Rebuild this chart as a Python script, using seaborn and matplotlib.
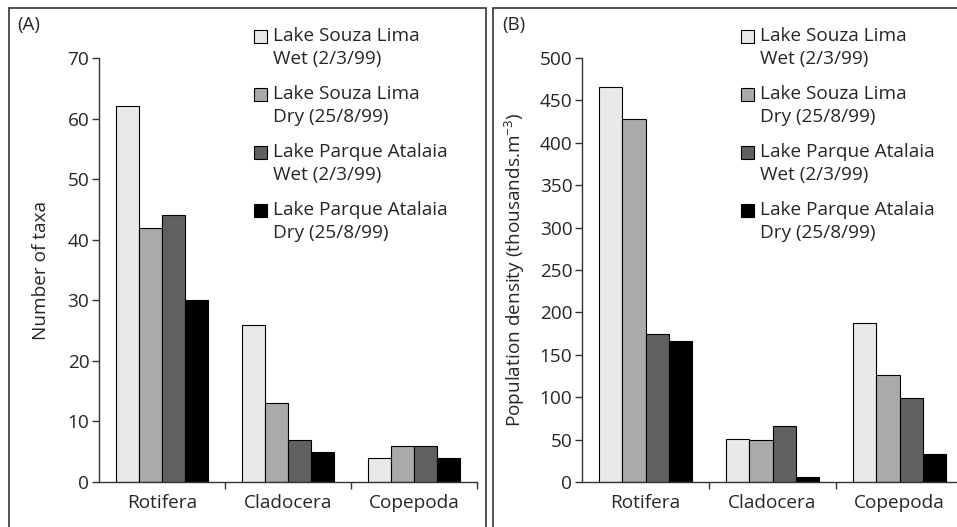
import numpy as np
import pandas as pd
import matplotlib
matplotlib.use("Agg")
import matplotlib.pyplot as plt
import matplotlib.patches as mpatches
from matplotlib.legend_handler import HandlerPatch
import seaborn as sns

groups = ["Rotifera", "Cladocera", "Copepoda"]
series = ["Lake Souza Lima\nWet (2/3/99)", "Lake Souza Lima\nDry (25/8/99)",
          "Lake Parque Atalaia\nWet (2/3/99)", "Lake Parque Atalaia\nDry (25/8/99)"]
taxa = [[62, 26, 4], [42, 13, 6], [44, 7, 6], [30, 5, 4]]
density = [[466, 51, 188], [428, 50, 126], [175, 66, 99], [166, 6, 33]]
colors = ["#e8e9e8", "#a9aaa9", "#616160", "#000000"]

sns.set_theme(style="white")
plt.rcParams["font.family"] = ["Open Sans", "DejaVu Sans"]
plt.rcParams["mathtext.fontset"] = "custom"
plt.rcParams["mathtext.rm"] = "Open Sans"
plt.rcParams["mathtext.it"] = "Open Sans"

FS = 13.7
W, H = 957, 527
fig = plt.figure(figsize=(W / 100, H / 100), dpi=100)


def long_df(vals):
    rows = []
    for s, v in zip(series, vals):
        for g, x in zip(groups, v):
            rows.append({"group": g, "series": s, "value": x})
    return pd.DataFrame(rows)


# legend square sits level with the first line of its label
def top_patch(legend, orig_handle, xdescent, ydescent, width, height, fontsize):
    return mpatches.Rectangle((-xdescent, -ydescent + 0.58 * fontsize), width, height)


def panel(rect, vals, ymax, ystep, ylabel, letter, leg_xy, border):
    ax = fig.add_axes([rect[0] / W, 1 - rect[3] / H, (rect[2] - rect[0]) / W, (rect[3] - rect[1]) / H])
    sns.barplot(data=long_df(vals), x="group", y="value", hue="series", hue_order=series,
                palette=colors, width=0.73, gap=0, edgecolor="black", linewidth=0.8,
                saturation=1, legend=False, ax=ax)
    ax.set_xlim(-0.5, 2.5)
    ax.set_ylim(0, ymax)
    ax.set_yticks(np.arange(0, ymax + 1, ystep))
    ax.set_xticks([0.5, 1.5, 2.5], minor=True)
    ax.tick_params(axis="x", which="major", length=0, pad=9, labelsize=FS)
    ax.tick_params(axis="x", which="minor", length=5, width=1, color="#333333", direction="out", bottom=True)
    ax.tick_params(axis="y", length=5, width=1, color="#333333", direction="out", left=True, labelsize=FS, pad=2)
    for sp in ["top", "right"]:
        ax.spines[sp].set_visible(False)
    for sp in ["left", "bottom"]:
        ax.spines[sp].set_color("#333333")
        ax.spines[sp].set_linewidth(1)
    ax.set_xlabel("")
    ax.set_ylabel(ylabel, fontsize=FS)
    ax.yaxis.set_label_coords((rect[4] - rect[0]) / (rect[2] - rect[0]), 0.5)
    fig.text(letter[1] / W, 1 - letter[2] / H, letter[0], fontsize=13.5, va="center", ha="left")
    handles = [mpatches.Patch(facecolor=c, edgecolor="black", linewidth=0.8) for c in colors]
    leg = fig.legend(handles, series, loc="upper left", bbox_to_anchor=(leg_xy[0] / W, 1 - leg_xy[1] / H),
                     frameon=False, fontsize=FS, handlelength=0.7, handleheight=0.7, handletextpad=0.3,
                     labelspacing=0.9, borderpad=0, borderaxespad=0,
                     handler_map={mpatches.Patch: HandlerPatch(patch_func=top_patch)})
    for t in leg.get_texts():
        t.set_linespacing(1.35)
    fig.add_artist(mpatches.Rectangle((border[0] / W, -0.01), (border[1] - border[0]) / W, 1 - border[2] / H + 0.01,
                                      transform=fig.transFigure, fill=False, edgecolor="#333333", linewidth=1.2))
    return ax


panel((99, 58, 477, 482, 50), taxa, 70, 10, "Number of taxa", ("(A)", 17, 25), (254, 27), (9, 486, 8))
panel((582, 58, 963, 482, 527), density, 500, 50, "Population density (thousands.m$^{-3}$)",
      ("(B)", 502, 25), (741, 27), (493, 990, 8))

fig.savefig("out.png", dpi=100)
